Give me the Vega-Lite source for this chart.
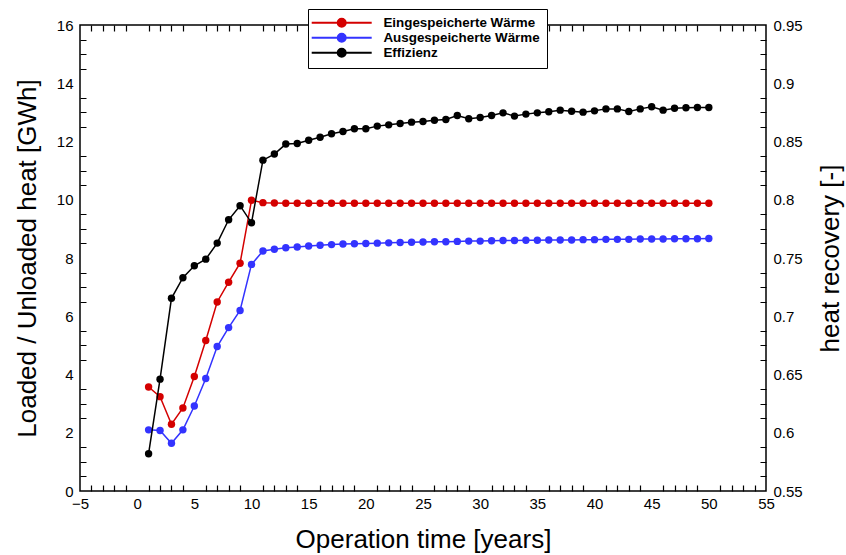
{
  "$schema": "https://vega.github.io/schema/vega-lite/v6.json",
  "autosize": {"type": "none"},
  "padding": {"left": 80, "top": 25, "right": 80, "bottom": 64},
  "width": 686,
  "height": 466,
  "background": "white",
  "config": {
    "view": {"stroke": "black", "strokeWidth": 1.5},
    "font": "Liberation Sans",
    "axis": {
      "grid": true,
      "gridColor": "black",
      "gridWidth": 1.2,
      "gridOpacity": 1,
      "domain": false,
      "ticks": false,
      "tickSize": 0,
      "labelFont": "Liberation Sans",
      "labelFontSize": 15,
      "labelColor": "black",
      "titleFont": "Liberation Sans",
      "titleFontSize": 26,
      "titleFontWeight": "normal",
      "titleColor": "black",
      "labelFlush": false,
      "labelOverlap": false
    },
    "legend": {
      "orient": "none",
      "legendX": 228,
      "legendY": -16,
      "strokeColor": "black",
      "fillColor": "white",
      "padding": 7,
      "labelFont": "Liberation Sans",
      "labelFontSize": 13.4,
      "labelFontWeight": "bold",
      "labelColor": "black",
      "symbolType": "M-7.5,0L7.5,0M-1,0A1,1,0,1,1,1,0A1,1,0,1,1,-1,0Z",
      "symbolSize": 64,
      "symbolStrokeWidth": 2,
      "symbolOffset": 20,
      "labelOffset": 35,
      "rowPadding": -2
    }
  },
  "data": {
    "values": [
      {"t": 1, "Eingespeicherte Wärme": 3.57, "Ausgespeicherte Wärme": 2.10, "Effizienz": 0.582},
      {"t": 2, "Eingespeicherte Wärme": 3.24, "Ausgespeicherte Wärme": 2.08, "Effizienz": 0.646},
      {"t": 3, "Eingespeicherte Wärme": 2.29, "Ausgespeicherte Wärme": 1.64, "Effizienz": 0.7154},
      {"t": 4, "Eingespeicherte Wärme": 2.85, "Ausgespeicherte Wärme": 2.10, "Effizienz": 0.7331},
      {"t": 5, "Eingespeicherte Wärme": 3.93, "Ausgespeicherte Wärme": 2.92, "Effizienz": 0.7433},
      {"t": 6, "Eingespeicherte Wärme": 5.17, "Ausgespeicherte Wärme": 3.86, "Effizienz": 0.749},
      {"t": 7, "Eingespeicherte Wärme": 6.49, "Ausgespeicherte Wärme": 4.96, "Effizienz": 0.7628},
      {"t": 8, "Eingespeicherte Wärme": 7.17, "Ausgespeicherte Wärme": 5.61, "Effizienz": 0.7828},
      {"t": 9, "Eingespeicherte Wärme": 7.82, "Ausgespeicherte Wärme": 6.20, "Effizienz": 0.7949},
      {"t": 10, "Eingespeicherte Wärme": 9.98, "Ausgespeicherte Wärme": 7.78, "Effizienz": 0.7802},
      {"t": 11, "Eingespeicherte Wärme": 9.90, "Ausgespeicherte Wärme": 8.24, "Effizienz": 0.834},
      {"t": 12, "Eingespeicherte Wärme": 9.89, "Ausgespeicherte Wärme": 8.30, "Effizienz": 0.8392},
      {"t": 13, "Eingespeicherte Wärme": 9.88, "Ausgespeicherte Wärme": 8.35, "Effizienz": 0.8478},
      {"t": 14, "Eingespeicherte Wärme": 9.88, "Ausgespeicherte Wärme": 8.38, "Effizienz": 0.8483},
      {"t": 15, "Eingespeicherte Wärme": 9.88, "Ausgespeicherte Wärme": 8.41, "Effizienz": 0.8511},
      {"t": 16, "Eingespeicherte Wärme": 9.88, "Ausgespeicherte Wärme": 8.44, "Effizienz": 0.8537},
      {"t": 17, "Eingespeicherte Wärme": 9.88, "Ausgespeicherte Wärme": 8.46, "Effizienz": 0.8566},
      {"t": 18, "Eingespeicherte Wärme": 9.88, "Ausgespeicherte Wärme": 8.48, "Effizienz": 0.8586},
      {"t": 19, "Eingespeicherte Wärme": 9.88, "Ausgespeicherte Wärme": 8.49, "Effizienz": 0.8609},
      {"t": 20, "Eingespeicherte Wärme": 9.88, "Ausgespeicherte Wärme": 8.50, "Effizienz": 0.8609},
      {"t": 21, "Eingespeicherte Wärme": 9.88, "Ausgespeicherte Wärme": 8.51, "Effizienz": 0.8632},
      {"t": 22, "Eingespeicherte Wärme": 9.88, "Ausgespeicherte Wärme": 8.52, "Effizienz": 0.8643},
      {"t": 23, "Eingespeicherte Wärme": 9.88, "Ausgespeicherte Wärme": 8.53, "Effizienz": 0.8655},
      {"t": 24, "Eingespeicherte Wärme": 9.88, "Ausgespeicherte Wärme": 8.54, "Effizienz": 0.8666},
      {"t": 25, "Eingespeicherte Wärme": 9.88, "Ausgespeicherte Wärme": 8.55, "Effizienz": 0.8672},
      {"t": 26, "Eingespeicherte Wärme": 9.88, "Ausgespeicherte Wärme": 8.56, "Effizienz": 0.8683},
      {"t": 27, "Eingespeicherte Wärme": 9.88, "Ausgespeicherte Wärme": 8.56, "Effizienz": 0.8689},
      {"t": 28, "Eingespeicherte Wärme": 9.88, "Ausgespeicherte Wärme": 8.57, "Effizienz": 0.8723},
      {"t": 29, "Eingespeicherte Wärme": 9.88, "Ausgespeicherte Wärme": 8.58, "Effizienz": 0.8695},
      {"t": 30, "Eingespeicherte Wärme": 9.88, "Ausgespeicherte Wärme": 8.58, "Effizienz": 0.8706},
      {"t": 31, "Eingespeicherte Wärme": 9.88, "Ausgespeicherte Wärme": 8.59, "Effizienz": 0.8723},
      {"t": 32, "Eingespeicherte Wärme": 9.88, "Ausgespeicherte Wärme": 8.60, "Effizienz": 0.8746},
      {"t": 33, "Eingespeicherte Wärme": 9.88, "Ausgespeicherte Wärme": 8.60, "Effizienz": 0.8718},
      {"t": 34, "Eingespeicherte Wärme": 9.88, "Ausgespeicherte Wärme": 8.61, "Effizienz": 0.8735},
      {"t": 35, "Eingespeicherte Wärme": 9.88, "Ausgespeicherte Wärme": 8.61, "Effizienz": 0.8746},
      {"t": 36, "Eingespeicherte Wärme": 9.88, "Ausgespeicherte Wärme": 8.62, "Effizienz": 0.8755},
      {"t": 37, "Eingespeicherte Wärme": 9.88, "Ausgespeicherte Wärme": 8.62, "Effizienz": 0.8769},
      {"t": 38, "Eingespeicherte Wärme": 9.88, "Ausgespeicherte Wärme": 8.62, "Effizienz": 0.876},
      {"t": 39, "Eingespeicherte Wärme": 9.88, "Ausgespeicherte Wärme": 8.63, "Effizienz": 0.8752},
      {"t": 40, "Eingespeicherte Wärme": 9.88, "Ausgespeicherte Wärme": 8.63, "Effizienz": 0.8763},
      {"t": 41, "Eingespeicherte Wärme": 9.88, "Ausgespeicherte Wärme": 8.64, "Effizienz": 0.878},
      {"t": 42, "Eingespeicherte Wärme": 9.88, "Ausgespeicherte Wärme": 8.64, "Effizienz": 0.878},
      {"t": 43, "Eingespeicherte Wärme": 9.88, "Ausgespeicherte Wärme": 8.64, "Effizienz": 0.8758},
      {"t": 44, "Eingespeicherte Wärme": 9.88, "Ausgespeicherte Wärme": 8.65, "Effizienz": 0.878},
      {"t": 45, "Eingespeicherte Wärme": 9.88, "Ausgespeicherte Wärme": 8.65, "Effizienz": 0.8798},
      {"t": 46, "Eingespeicherte Wärme": 9.88, "Ausgespeicherte Wärme": 8.65, "Effizienz": 0.8769},
      {"t": 47, "Eingespeicherte Wärme": 9.88, "Ausgespeicherte Wärme": 8.66, "Effizienz": 0.8786},
      {"t": 48, "Eingespeicherte Wärme": 9.88, "Ausgespeicherte Wärme": 8.66, "Effizienz": 0.8789},
      {"t": 49, "Eingespeicherte Wärme": 9.88, "Ausgespeicherte Wärme": 8.66, "Effizienz": 0.8792},
      {"t": 50, "Eingespeicherte Wärme": 9.88, "Ausgespeicherte Wärme": 8.67, "Effizienz": 0.8792}
    ]
  },
  "layer": [
    {
      "mark": {"type": "point", "opacity": 0},
      "encoding": {
        "x": {
          "field": "t", "type": "quantitative",
          "scale": {"domain": [-5, 55], "nice": false, "zero": false},
          "axis": {
            "orient": "bottom", "title": null, "labels": false,
            "values": [-4,-3,-2,-1,1,2,3,4,6,7,8,9,11,12,13,14,16,17,18,19,21,22,23,24,26,27,28,29,31,32,33,34,36,37,38,39,41,42,43,44,46,47,48,49,51,52,53,54],
            "gridDash": [6, 454, 6, 5000]
          }
        },
        "y": {
          "field": "Ausgespeicherte Wärme", "type": "quantitative",
          "scale": {"domain": [0, 16], "nice": false},
          "axis": {
            "orient": "left", "title": null, "labels": false,
            "values": [0.5,1,1.5,2.5,3,3.5,4.5,5,5.5,6.5,7,7.5,8.5,9,9.5,10.5,11,11.5,12.5,13,13.5,14.5,15,15.5],
            "gridDash": [6, 674, 6, 5000]
          }
        }
      }
    },
    {
      "transform": [{"fold": ["Eingespeicherte Wärme", "Ausgespeicherte Wärme"], "as": ["series", "v"]}],
      "mark": {"type": "line", "strokeWidth": 1.5, "point": {"filled": true, "size": 55, "opacity": 1}},
      "encoding": {
        "x": {
          "field": "t", "type": "quantitative",
          "scale": {"domain": [-5, 55], "nice": false, "zero": false},
          "axis": {
            "orient": "bottom",
            "title": "Operation time [years]",
            "titlePadding": 15,
            "values": [-5,0,5,10,15,20,25,30,35,40,45,50,55],
            "gridDash": [11, 444, 11, 5000],
            "labelPadding": 5
          }
        },
        "y": {
          "field": "v", "type": "quantitative",
          "scale": {"domain": [0, 16], "nice": false},
          "axis": {
            "orient": "left",
            "title": "Loaded / Unloaded heat [GWh]",
            "titlePadding": 16,
            "values": [0,2,4,6,8,10,12,14,16],
            "format": "d",
            "gridDash": [11, 664, 11, 5000],
            "labelPadding": 7
          }
        },
        "color": {
          "field": "series", "type": "nominal",
          "scale": {"domain": ["Eingespeicherte Wärme", "Ausgespeicherte Wärme", "Effizienz"], "range": ["#d40000", "#3333ff", "#000000"]},
          "legend": {
            "title": null,
            "encode": {"symbols": {"update": {"fill": {"scale": "color", "field": "value"}, "stroke": {"scale": "color", "field": "value"}}}}
          }
        }
      }
    },
    {
      "transform": [{"fold": ["Effizienz"], "as": ["series", "v"]}],
      "mark": {"type": "line", "strokeWidth": 1.5, "point": {"filled": true, "size": 55, "opacity": 1}},
      "encoding": {
        "x": {
          "field": "t", "type": "quantitative",
          "scale": {"domain": [-5, 55], "nice": false, "zero": false},
          "axis": {
            "orient": "top", "title": null, "labels": false, "grid": false,
            "values": [-5,0,5,10,15,20,25,30,35,40,45,50,55]
          }
        },
        "y": {
          "field": "v", "type": "quantitative",
          "scale": {"domain": [0.55, 0.95], "nice": false, "zero": false},
          "axis": {
            "orient": "right",
            "title": "heat recovery [-]",
            "titleAngle": 270,
            "titlePadding": 41,
            "grid": false,
            "values": [0.55,0.6,0.65,0.7,0.75,0.8,0.85,0.9,0.95],
            "labelExpr": "format(datum.value, '.2~f')",
            "labelPadding": 7
          }
        },
        "color": {"field": "series", "type": "nominal"}
      }
    }
  ],
  "resolve": {"scale": {"y": "independent", "x": "independent"}}
}
